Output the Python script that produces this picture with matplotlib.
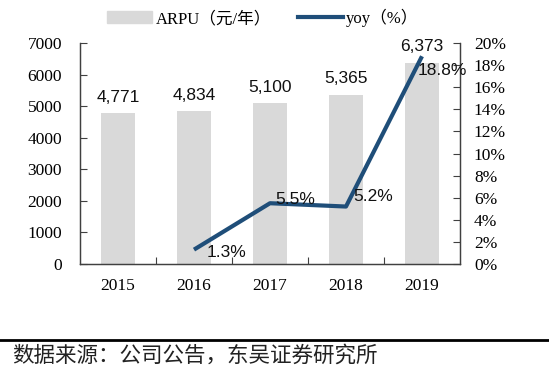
import matplotlib
matplotlib.use("Agg")
import matplotlib.pyplot as plt
from matplotlib.lines import Line2D
import numpy as np

plt.rcParams['font.family'] = ['Liberation Serif', 'Noto Sans CJK SC']

years = ['2015', '2016', '2017', '2018', '2019']
arpu = [4771, 4834, 5100, 5365, 6373]
yoy_years = ['2016', '2017', '2018', '2019']
yoy = [1.3, 5.5, 5.2, 18.8]

BAR_COLOR = '#d9d9d9'
LINE_COLOR = '#1f4e79'
SPINE = '#404040'

fig = plt.figure(figsize=(5.49, 3.78), dpi=100)
W, H = 549, 378
ax = fig.add_axes([80 / W, 1 - 264 / H, 380 / W, 221 / H])
ax2 = ax.twinx()

x = np.arange(len(years))
ax.bar(x, arpu, width=0.44, color=BAR_COLOR, zorder=1)
for xi, v in zip(x, arpu):
    ax.annotate(f'{v:,}', (xi, v), xytext=(0, 6), textcoords='offset points',
                ha='center', va='bottom', fontsize=12.5, family='Liberation Sans',
                color='#111111')

ax.set_xlim(-0.5, len(years) - 0.5)
ax.set_ylim(0, 7000)
ax.set_yticks(np.arange(0, 7001, 1000))
ax.set_xticks(np.arange(0.5, len(years) - 1, 1))
ax.set_xticklabels([])
ax.set_xticks(x, minor=True)
ax.set_xticklabels(years, minor=True)
ax.tick_params(axis='x', which='minor', length=0, pad=10, labelsize=12.5)
ax.tick_params(axis='x', which='major', direction='in', length=5, color=SPINE)
ax.tick_params(axis='y', direction='in', length=5, color=SPINE, labelsize=12.5, pad=13)

# yoy line on right axis
xi_yoy = [years.index(y) for y in yoy_years]
ax2.plot(xi_yoy, np.array(yoy) / 100, color=LINE_COLOR, lw=3, zorder=3,
         solid_capstyle='butt')
offsets = [(9, -2), (4, 3), (5, 7), (-3, -10)]
for xi, v, off in zip(xi_yoy, yoy, offsets):
    ax2.annotate(f'{v:.1f}%', (xi, v / 100), xytext=off, textcoords='offset points',
                 ha='left', va='center', fontsize=12.5, family='Liberation Sans',
                 color='#111111')
ax2.set_ylim(0, 0.20)
ax2.set_yticks(np.arange(0, 0.201, 0.02))
ax2.set_yticklabels([f'{int(round(t * 100))}%' for t in np.arange(0, 0.201, 0.02)])
ax2.tick_params(axis='y', direction='in', length=5, color=SPINE, labelsize=12.5, pad=10)

for a in (ax, ax2):
    a.spines['top'].set_visible(False)
    for s in ('left', 'right', 'bottom'):
        a.spines[s].set_color(SPINE)
        a.spines[s].set_linewidth(0.9)

# legend
handles = [plt.Rectangle((0, 0), 1, 1, color=BAR_COLOR),
           Line2D([0], [0], color=LINE_COLOR, lw=3)]
fig.legend(handles, ['ARPU（元/年）', 'yoy（%）'], loc='center',
           bbox_to_anchor=(263 / W, 1 - 18 / H), ncol=2, frameon=False,
           fontsize=12, handlelength=2.7, handleheight=0.7,
           handletextpad=0.2, columnspacing=1.6)

# source line and note
fig.add_artist(Line2D([0, 1], [1 - 340 / H, 1 - 340 / H], color='black', lw=2,
                      transform=fig.transFigure))
fig.text(12 / W, 1 - 356 / H, '数据来源：公司公告，东吴证券研究所',
         fontsize=15.5, family='Noto Sans CJK SC', va='center', ha='left',
         color='#222222')

fig.savefig('out.png', dpi=100)
